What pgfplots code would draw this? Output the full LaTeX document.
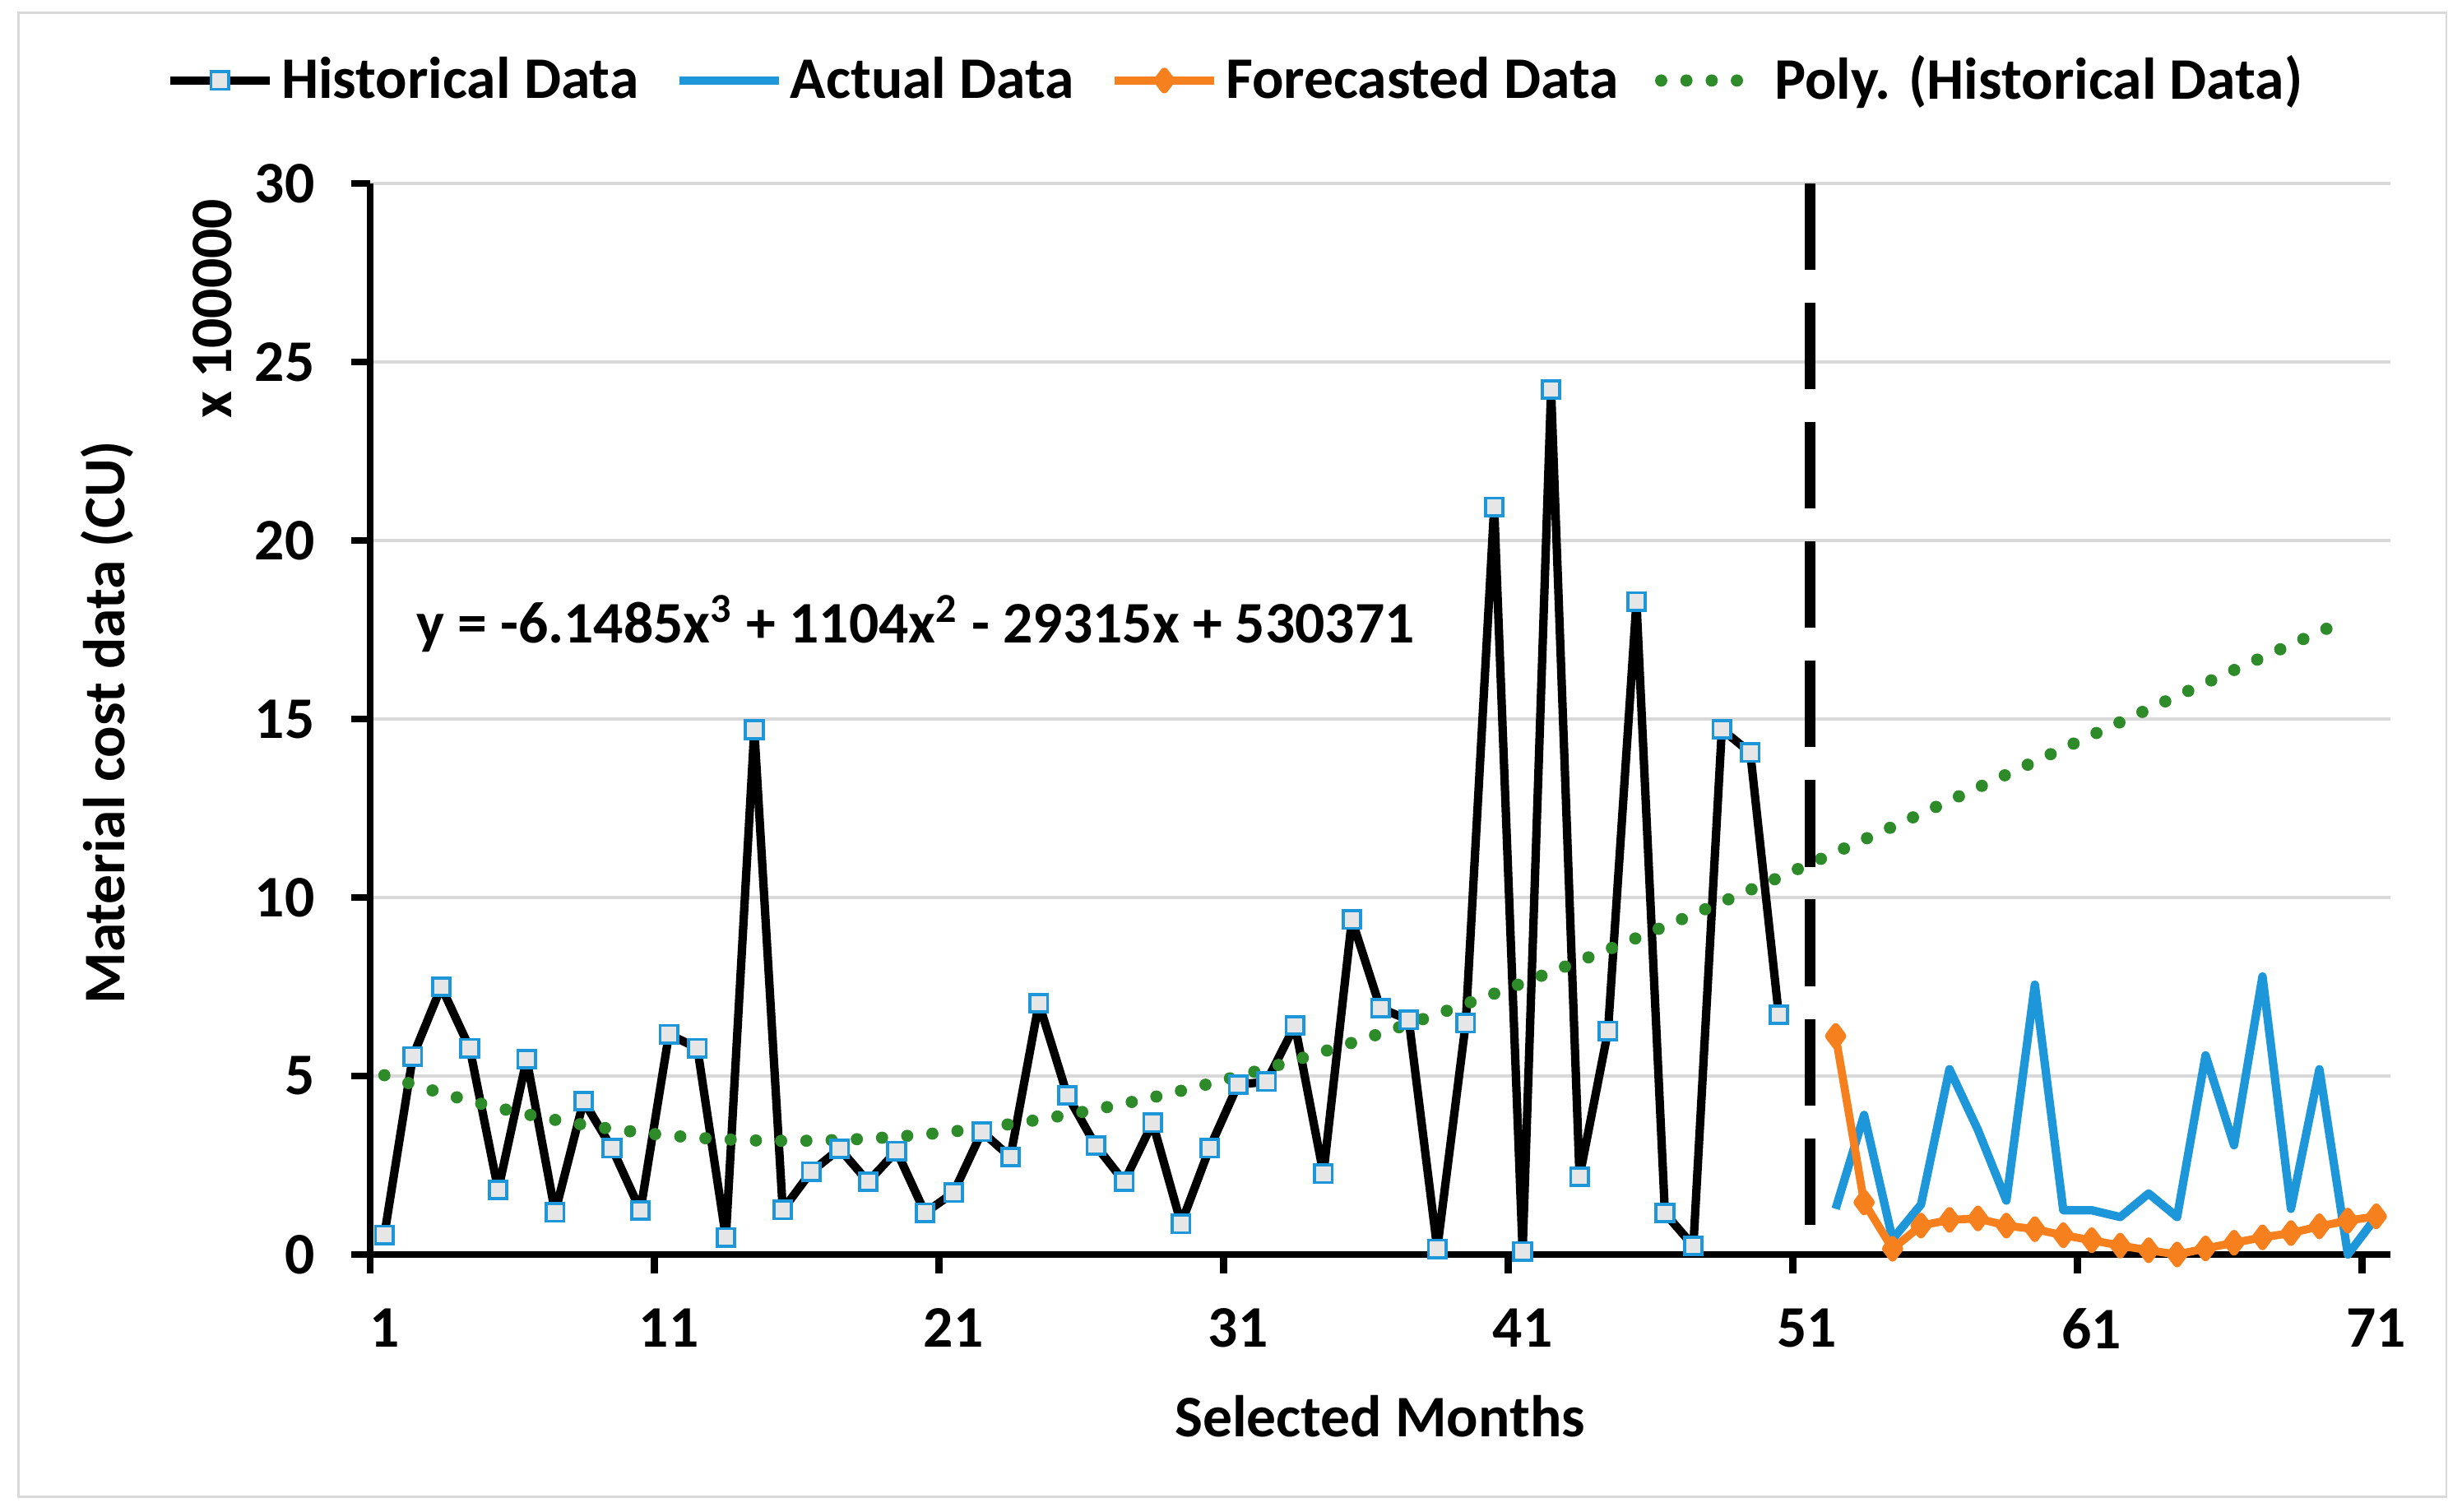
\documentclass[border=0pt]{standalone}
\usepackage{fontspec}
\setmainfont{Carlito}
\usepackage{pgfplots}
\pgfplotsset{compat=1.18}
\definecolor{histblue}{HTML}{1D97D9}
\definecolor{markfill}{HTML}{E6E6E6}
\definecolor{actblue}{HTML}{1D97D9}
\definecolor{fcorange}{HTML}{F7801E}
\definecolor{trendgreen}{HTML}{2E8B2A}
\definecolor{gridgray}{HTML}{D9D9D9}
\definecolor{bordergray}{HTML}{D9D9D9}
\newcommand\cf{\fontsize{15.4}{18.4}\selectfont\bfseries}

\pgfplotstableread{
x y
1 0.55
2 5.55
3 7.50
4 5.78
5 1.81
6 5.47
7 1.18
8 4.30
9 2.98
10 1.23
11 6.17
12 5.78
13 0.48
14 14.70
15 1.25
16 2.32
17 2.96
18 2.04
19 2.90
20 1.17
21 1.73
22 3.44
23 2.73
24 7.04
25 4.46
26 3.05
27 2.04
28 3.69
29 0.86
30 2.98
31 4.76
32 4.84
33 6.42
34 2.26
35 9.38
36 6.90
37 6.57
38 0.16
39 6.48
40 20.94
41 0.09
42 24.23
43 2.18
44 6.26
45 18.29
46 1.16
47 0.24
48 14.71
49 14.06
50 6.72
}\histdata

\pgfplotstableread{
x y
52 1.28
53 3.91
54 0.43
55 1.40
56 5.19
57 3.49
58 1.51
59 7.56
60 1.24
61 1.24
62 1.05
63 1.71
64 1.05
65 5.58
66 3.06
67 7.79
68 1.28
69 5.19
70 0.00
71 1.05
}\actdata

\pgfplotstableread{
x y
52 6.12
53 1.46
54 0.16
55 0.81
56 0.97
57 1.01
58 0.81
59 0.71
60 0.54
61 0.40
62 0.25
63 0.12
64 0.00
65 0.17
66 0.33
67 0.48
68 0.60
69 0.79
70 0.95
71 1.07
}\fcdata

\pgfplotstableread{
x y
1 5.02154
2 4.76108
3 4.52196
4 4.30381
5 4.10627
6 3.92897
7 3.77153
8 3.63359
9 3.51478
10 3.41472
11 3.33306
12 3.26942
13 3.22344
14 3.19473
15 3.18295
16 3.18771
17 3.20864
18 3.24539
19 3.29758
20 3.36483
21 3.44678
22 3.54307
23 3.65332
24 3.77715
25 3.91426
26 4.06419
27 4.22661
28 4.40115
29 4.58744
30 4.78511
31 4.99380
32 5.21313
33 5.44273
34 5.68224
35 5.93129
36 6.18951
37 6.45652
38 6.73196
39 7.01547
40 7.30667
41 7.60519
42 7.91067
43 8.22273
44 8.54101
45 8.86514
46 9.19475
47 9.52946
48 9.86892
49 10.21275
50 10.56058
51 10.91205
52 11.26679
53 11.62442
54 11.98458
55 12.34689
56 12.71100
57 13.07653
58 13.44311
59 13.81037
60 14.17795
61 14.54547
62 14.91257
63 15.27888
64 15.64403
65 16.00764
66 16.36936
67 16.72881
68 17.08562
69 17.43942
70 17.78985
}\trenddata

\begin{document}
\begin{tikzpicture}
\begin{axis}[
  at={(0pt,0pt)}, anchor=south west,
  scale only axis, width=528.2pt, height=280pt,
  xmin=0.5, xmax=71.5, ymin=0, ymax=30,
  clip=false,
  axis x line*=bottom, axis y line*=left,
  axis line style={line width=1.9pt, black, -},
  xtick={0.5,10.5,20.5,30.5,40.5,50.5,60.5,70.5},
  xticklabels={1,11,21,31,41,51,61,71},
  ytick={0,5,...,30},
  minor tick num=0,
  tick align=outside, major tick length=5pt,
  tick style={line width=1.9pt, black},
  ymajorgrids, grid style={line width=0.7pt, gridgray},
  /pgf/number format/assume math mode=true,
  tick label style={font=\cf},
  xticklabel style={xshift=3.72pt, yshift=-5.6pt},
  yticklabel style={xshift=-6pt},
  xlabel={Selected Months},
  xlabel style={at={(axis description cs:0.4998,-0.1514)}, anchor=center, font=\cf},
  ylabel={Material cost data (CU)},
  ylabel style={at={(axis description cs:-0.1303,0.4968)}, anchor=center, font=\cf},
  legend style={at={(axis description cs:0.4296,1.0961)}, anchor=center, draw=none, fill=none, font=\cf, legend columns=-1, /tikz/every even column/.append style={column sep=7.5pt}},
  legend image code/.code={\draw[mark repeat=2,mark phase=2] plot coordinates {(0pt,0pt) (13pt,0pt) (26pt,0pt)};},
]
\addplot[black, line width=2.2pt, line join=round, mark=square*, mark size=2.3pt, mark options={fill=markfill, draw=histblue, line width=0.8pt, solid, line join=miter}] table[x=x,y=y] {\histdata};
\addlegendentry{Historical Data}
\addplot[actblue, line width=2.2pt, line join=round] table[x=x,y=y] {\actdata};
\addlegendentry{Actual Data}
\addplot[fcorange, line width=2.1pt, line join=round, mark=diamond*, mark size=2.3pt, mark options={fill=fcorange, draw=fcorange, solid}] table[x=x,y=y] {\fcdata};
\addlegendentry{Forecasted Data}
\addplot[trendgreen, line width=3.2pt, line cap=round, dash pattern=on 0pt off 6.6pt] table[x=x,y=y] {\trenddata};
\addlegendentry{Poly. (Historical Data)}
\addplot[forget plot, black, line width=2.8pt, dash pattern=on 22.6pt off 8.6pt] coordinates {(51.1,30) (51.1,0)};
\node[anchor=west, inner sep=0pt, font=\cf] at (axis cs:2.1,17.67) {y = -6.1485x\textsuperscript{3} + 1104x\textsuperscript{2} - 29315x + 530371};
\node[rotate=90, anchor=center, font=\cf] at (axis description cs:-0.0782,0.883) {x 100000};
\end{axis}
\draw[color=bordergray, line width=0.6pt] (-92.0pt,-63.4pt) rectangle (542.8pt,324.7pt);
\pgfresetboundingbox
\path[use as bounding box] (-96.77pt,-67.1pt) rectangle (546.88pt,327.96pt);
\end{tikzpicture}
\end{document}
